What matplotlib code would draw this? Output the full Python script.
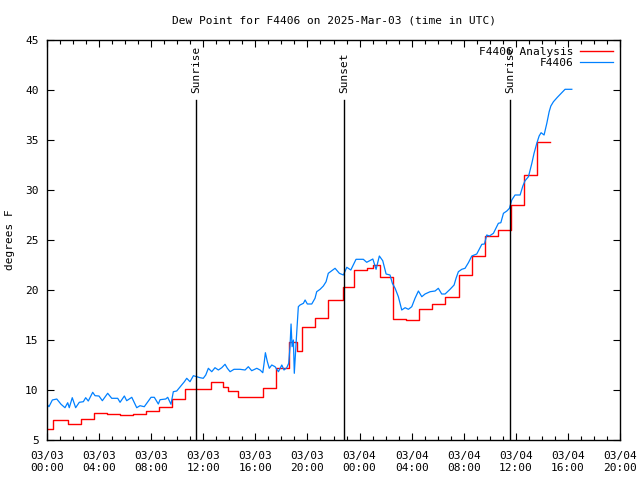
import matplotlib
matplotlib.use("Agg")
import matplotlib.pyplot as plt
from matplotlib.ticker import MultipleLocator

# hours since 2025-03-03 00:00 UTC
blue_hours = [0.0, 0.15, 0.41, 0.75, 1.08, 1.38, 1.59, 1.71, 1.94, 2.2, 2.48, 2.79, 2.97, 3.17,
              3.51, 3.69, 3.99, 4.25, 4.66, 4.97, 5.43, 5.61, 5.94, 6.12, 6.51, 6.89, 7.14, 7.47,
              7.99, 8.24, 8.55, 8.68, 9.12, 9.27, 9.52, 9.7, 9.96, 10.29, 10.55, 10.73, 10.98,
              11.24, 11.5, 11.75, 12.0, 12.19, 12.39, 12.65, 12.9, 13.16, 13.42, 13.67, 13.85,
              14.06, 14.36, 14.82, 15.21, 15.46, 15.72, 16.11, 16.36, 16.57, 16.67, 16.77, 16.92,
              17.07, 17.26, 17.51, 17.77, 18.03, 18.2, 18.41, 18.56, 18.66, 18.74, 18.82, 18.92,
              18.99, 19.05, 19.18, 19.3, 19.43, 19.69, 19.82, 19.99, 20.33, 20.58, 20.71, 20.97,
              21.22, 21.43, 21.6, 22.12, 22.45, 22.76, 23.02, 23.33, 23.73, 24.29, 24.55, 25.02,
              25.27, 25.52, 25.78, 26.04, 26.34, 26.52, 26.73, 26.98, 27.24, 27.5, 27.75, 28.01,
              28.26, 28.52, 28.78, 29.03, 29.42, 29.8, 30.05, 30.31, 30.57, 30.95, 31.26, 31.41,
              31.59, 31.85, 32.1, 32.36, 32.62, 33.0, 33.39, 33.59, 33.77, 33.97, 34.28, 34.66,
              34.85, 35.05, 35.31, 35.51, 35.69, 35.94, 36.33, 36.54, 36.71, 36.97, 37.23, 37.4,
              37.61, 37.79, 37.94, 38.17, 38.38, 38.56, 38.69, 38.89, 39.19, 39.53, 39.78, 40.3]
blue_vals = [8.57, 8.33, 9.0, 9.1, 8.57, 8.23, 8.73, 8.23, 9.23, 8.23, 8.77, 8.83, 9.23, 8.9,
             9.77, 9.43, 9.4, 8.93, 9.67, 9.17, 9.17, 8.77, 9.4, 8.93, 9.27, 8.23, 8.43, 8.33,
             9.27, 9.27, 8.6, 9.03, 9.1, 9.27, 8.57, 9.83, 9.9, 10.43, 10.83, 11.17, 10.83,
             11.43, 11.33, 11.23, 11.17, 11.5, 12.17, 11.83, 12.23, 12.0, 12.23, 12.57, 12.17,
             11.83, 12.07, 12.07, 12.0, 12.33, 11.93, 12.17, 12.0, 11.73, 12.67, 13.73, 12.83,
             12.17, 12.5, 12.33, 11.83, 12.5, 12.0, 12.23, 12.67, 14.33, 16.6, 14.33, 15.0,
             11.67, 13.0, 15.83, 18.33, 18.5, 18.67, 19.0, 18.6, 18.6, 19.17, 19.83, 20.07,
             20.4, 20.83, 21.67, 22.17, 21.67, 21.5, 22.27, 22.0, 23.07, 23.07, 22.77, 23.1,
             22.07, 23.4, 22.93, 21.6, 21.5, 20.67, 20.17, 19.33, 18.0, 18.23, 18.07, 18.33,
             19.17, 19.9, 19.33, 19.6, 19.83, 19.9, 20.17, 19.6, 19.6, 20.07, 20.5, 21.17,
             21.83, 22.07, 22.17, 22.73, 23.4, 23.6, 24.57, 24.6, 25.5, 25.4, 25.67, 26.67,
             26.73, 27.67, 27.9, 28.17, 29.0, 29.5, 29.5, 30.4, 30.93, 31.33, 32.67, 33.67,
             34.67, 35.4, 35.73, 35.5, 36.67, 37.83, 38.4, 38.83, 39.27, 39.73, 40.07, 40.07]

red_hours = [0.0, 0.45, 1.6, 2.6, 3.6, 4.6, 5.6, 6.6, 7.6, 8.6, 9.6, 10.6, 12.6, 13.5, 13.9,
             14.7, 16.6, 17.6, 18.6, 19.2, 19.6, 20.6, 21.6, 22.7, 23.6, 24.6, 25.0, 25.6,
             26.6, 27.6, 28.6, 29.6, 30.6, 31.6, 32.6, 33.6, 34.6, 35.6, 36.6, 37.6, 38.6]
red_vals = [6.1, 7.0, 6.6, 7.1, 7.7, 7.6, 7.5, 7.6, 7.9, 8.3, 9.1, 10.1, 10.8, 10.3, 9.9,
            9.3, 10.2, 12.2, 14.8, 13.9, 16.3, 17.2, 19.0, 20.3, 22.0, 22.2, 22.5, 21.3,
            17.1, 17.0, 18.1, 18.6, 19.3, 21.5, 23.4, 25.4, 26.0, 28.5, 31.5, 34.8, 34.8]

sun_hours = [11.44, 22.81, 35.56]
sun_labels = ["Sunrise", "Sunset", "Sunrise"]

tick_hours = list(range(0, 45, 4))
tick_labels = ["03/03\n00:00", "03/03\n04:00", "03/03\n08:00", "03/03\n12:00",
               "03/03\n16:00", "03/03\n20:00", "03/04\n00:00", "03/04\n04:00",
               "03/04\n08:00", "03/04\n12:00", "03/04\n16:00", "03/04\n20:00"]

plt.rcParams['font.family'] = 'DejaVu Sans Mono'
plt.rcParams['font.size'] = 7.5

fig = plt.figure(figsize=(6.4, 4.8), dpi=100)
ax = fig.add_axes([47/640, 40/480, 573/640, 400/480])

ax.plot(red_hours, red_vals, color='#ff0000', lw=1.0, drawstyle='steps-post',
        label='F4406 Analysis')
ax.plot(blue_hours, blue_vals, color='#0080ff', lw=0.9, label='F4406')

for h, lab in zip(sun_hours, sun_labels):
    ax.plot([h, h], [5, 39], color='black', lw=1.0)
    ax.text(h, 39.7, lab, rotation=90, ha='center', va='bottom', fontsize=8)

ax.set_xlim(0, 44)
ax.set_ylim(5, 45)
ax.set_xticks(tick_hours)
ax.set_xticklabels(tick_labels, linespacing=1.25)
ax.xaxis.set_minor_locator(MultipleLocator(1))
ax.yaxis.set_major_locator(MultipleLocator(5))
ax.tick_params(which='both', direction='in', top=True, right=True, labelsize=8)
ax.tick_params(axis='x', pad=8)
ax.tick_params(axis='y', pad=6)
ax.tick_params(which='major', length=5, width=0.8)
ax.tick_params(which='minor', length=3, width=0.8)
for s in ax.spines.values():
    s.set_linewidth(1.0)

ax.set_title("Dew Point for F4406 on 2025-Mar-03 (time in UTC)", fontsize=8, pad=12)
ax.set_ylabel("degrees F", fontsize=8, labelpad=7)

leg = ax.legend(loc='upper right', frameon=False, markerfirst=False, fontsize=8,
                handlelength=3.0, handletextpad=0.6, borderaxespad=0.2, labelspacing=0.1)

fig.savefig("out.png", dpi=100)
